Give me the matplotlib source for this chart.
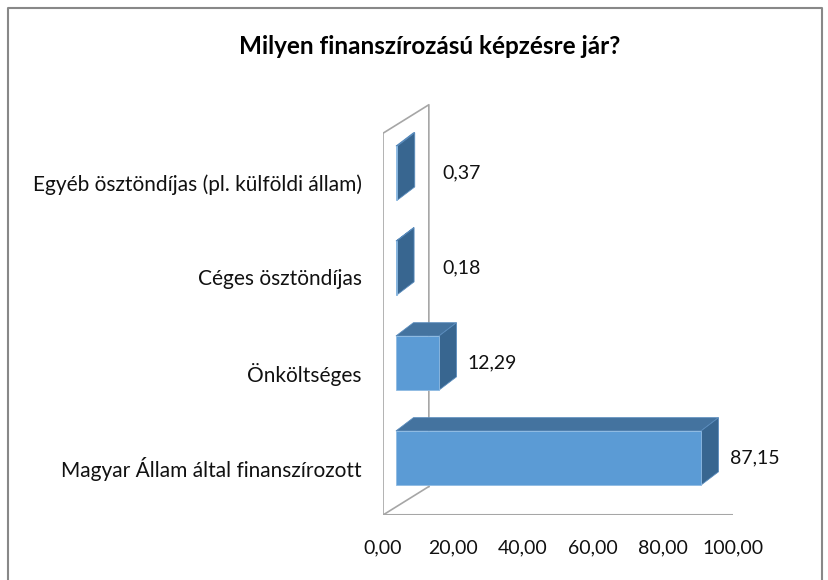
import matplotlib.pyplot as plt
from matplotlib.patches import Polygon

plt.rcParams['font.family'] = ['Lato', 'DejaVu Sans']

# data (bottom to top)
categories = ['Magyar Állam által finanszírozott', 'Önköltséges',
              'Céges ösztöndíjas', 'Egyéb ösztöndíjas (pl. külföldi állam)']
values = [87.15, 12.29, 0.18, 0.37]
value_labels = ['87,15', '12,29', '0,18', '0,37']
xticks = [0, 20, 40, 60, 80, 100]
xtick_labels = ['0,00', '20,00', '40,00', '60,00', '80,00', '100,00']
title = 'Milyen finanszírozású képzésre jár?'

W, H = 829, 580
fig = plt.figure(figsize=(W / 100, H / 100), dpi=100)

# outer chart border
fig.add_artist(plt.Line2D([8 / W, 8 / W, 822 / W, 822 / W], [0, 1 - 8 / H, 1 - 8 / H, 0],
                          color='#888888', lw=1.5))

ax = fig.add_axes([383 / W, 1 - 515 / H, 350 / W, 415 / H])
ax.set_xlim(0, 100)
ax.set_ylim(-0.6, 3.77)
ax.axis('off')

# 3d look: wall depth and bar depth (data units)
wdx, wdy = 13.1, 0.3
off = 3.7          # bar front face offset from the wall front
bdx, bdy = 5.0, 0.14
half = 0.285
ybot = -0.6
ytop = 3.42
wall = '#a6a6a6'

ax.plot([0, 0, wdx, wdx], [ybot, ytop, ytop + wdy, ybot + wdy], color=wall, lw=1.2, zorder=1)
ax.plot([0, wdx], [ybot, ybot + wdy], color=wall, lw=1.2, zorder=1)
ax.plot([0, 100], [ybot, ybot], color=wall, lw=1.5, zorder=1)

front_c, top_c, side_c = '#5b9bd5', '#44739f', '#386690'
for i, v in enumerate(values):
    x0, x1 = off, off + v
    yb, yt = i - half, i + half
    ax.add_patch(Polygon([(x0, yt), (x1, yt), (x1 + bdx, yt + bdy), (x0 + bdx, yt + bdy)],
                         closed=True, fc=top_c, ec='#5a8cbd', lw=0.6, zorder=3))
    ax.add_patch(Polygon([(x1, yb), (x1, yt), (x1 + bdx, yt + bdy), (x1 + bdx, yb + bdy)],
                         closed=True, fc=side_c, ec='#5a8cbd', lw=0.6, zorder=3))
    ax.add_patch(Polygon([(x0, yb), (x1, yb), (x1, yt), (x0, yt)],
                         closed=True, fc=front_c, ec='#8fbbe3', lw=0.6, zorder=4))
    lx = max(x1 + bdx + 3.2, 17.1)
    ax.text(lx, i + 0.0, value_labels[i], ha='left', va='center', fontsize=14, color='#111111')
    ax.text(-6, i - 0.12, categories[i], ha='right', va='center', fontsize=15, color='#111111')

for t, lab in zip(xticks, xtick_labels):
    ax.text(t, ybot - 0.35, lab, ha='center', va='center', fontsize=14, color='#111111')

fig.text(430 / W, 1 - 46 / H, title, ha='center', va='center', fontsize=17.5,
         fontweight='bold', color='#000000')

fig.savefig('out.png', dpi=100)
